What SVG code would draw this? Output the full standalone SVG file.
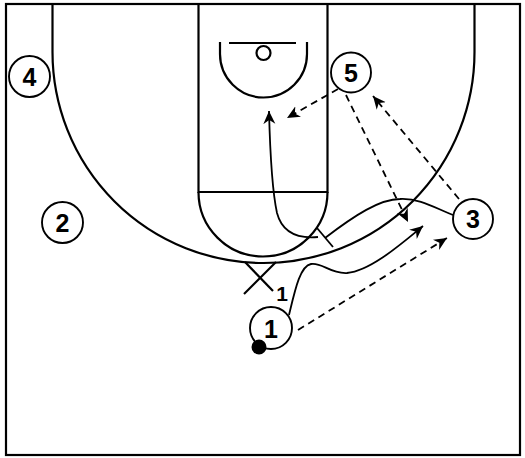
<svg xmlns="http://www.w3.org/2000/svg" width="525" height="458" viewBox="0 0 525 458">
<style>
.court{fill:none;stroke:#000;stroke-width:2.2}
.p{fill:#fff;stroke:#000;stroke-width:1.9}
.t{font-family:"Liberation Sans",Arial,sans-serif;font-weight:bold;font-size:25px;text-anchor:middle;fill:#000}
.cut{fill:none;stroke:#000;stroke-width:1.8}
.pass{fill:none;stroke:#000;stroke-width:1.8;stroke-dasharray:7,5}
</style>
<defs>
<marker id="ah" markerUnits="userSpaceOnUse" markerWidth="16" markerHeight="14" refX="13" refY="6" orient="auto">
<path d="M0,0 L13,6 L0,12 L4,6 z" fill="#000"/>
</marker>
</defs>
<rect width="525" height="458" fill="#fff"/>
<g id="court">
<rect class="court" x="6" y="4" width="514" height="451" stroke-width="2.5"/>
<path class="court" d="M52.5,4 L52.5,52 A211,211 0 0 0 474.5,52 L474.5,4"/>
<path class="court" d="M198.5,4 L198.5,192 L327.5,192 L327.5,4"/>
<path class="court" d="M198.5,192 A64.5,64.5 0 0 0 327.5,192"/>
<path class="court" d="M220,42 L220,54 A43.5,43.5 0 0 0 307,54 L307,42"/>
<line class="court" x1="229" y1="43" x2="296" y2="43"/>
<circle class="court" cx="263.5" cy="53" r="7"/>
</g>
<g id="connectors">
<path class="cut" d="M289,315 C295,290 300,266 311,264 C322,262 330,274 347,273 C370,271 400,245 423,226" marker-end="url(#ah)"/>
<path class="cut" d="M318,237 C296,239 282,232 277,213 C272,190 270,150 269,111" marker-end="url(#ah)"/>
<path class="cut" d="M453,215 C435,208 420,198 400,199 C380,199 355,215 325,238"/>
<line class="cut" x1="317" y1="228" x2="333" y2="247" stroke-width="2"/>
<path class="pass" d="M338,89 L287,118" marker-end="url(#ah)"/>
<path class="pass" d="M346,95 L408,222" marker-end="url(#ah)"/>
<path class="pass" d="M459,199 L373,96" marker-end="url(#ah)"/>
<path class="pass" d="M298,330 L447,238" marker-end="url(#ah)"/>
</g>
<g id="player4"><circle class="p" cx="29.5" cy="76.5" r="20.5"/><text class="t" x="29.5" y="85.5">4</text></g>
<g id="player2"><circle class="p" cx="62.5" cy="222.5" r="20.5"/><text class="t" x="62.5" y="231.5">2</text></g>
<g id="player5"><circle class="p" cx="351" cy="72.5" r="20"/><text class="t" x="351" y="81.5">5</text></g>
<g id="player3"><circle class="p" cx="473" cy="219" r="20"/><text class="t" x="473" y="228">3</text></g>
<g id="player1"><circle class="p" cx="271" cy="328" r="21"/><text class="t" x="271" y="337.5">1</text><circle cx="259" cy="347" r="7.5" fill="#000"/></g>
<g id="defender1">
<line class="court" x1="245" y1="262" x2="273" y2="291"/>
<line class="court" x1="276" y1="262" x2="244" y2="294"/>
<text class="t" x="282" y="301" style="font-size:21px">1</text>
</g>
</svg>
